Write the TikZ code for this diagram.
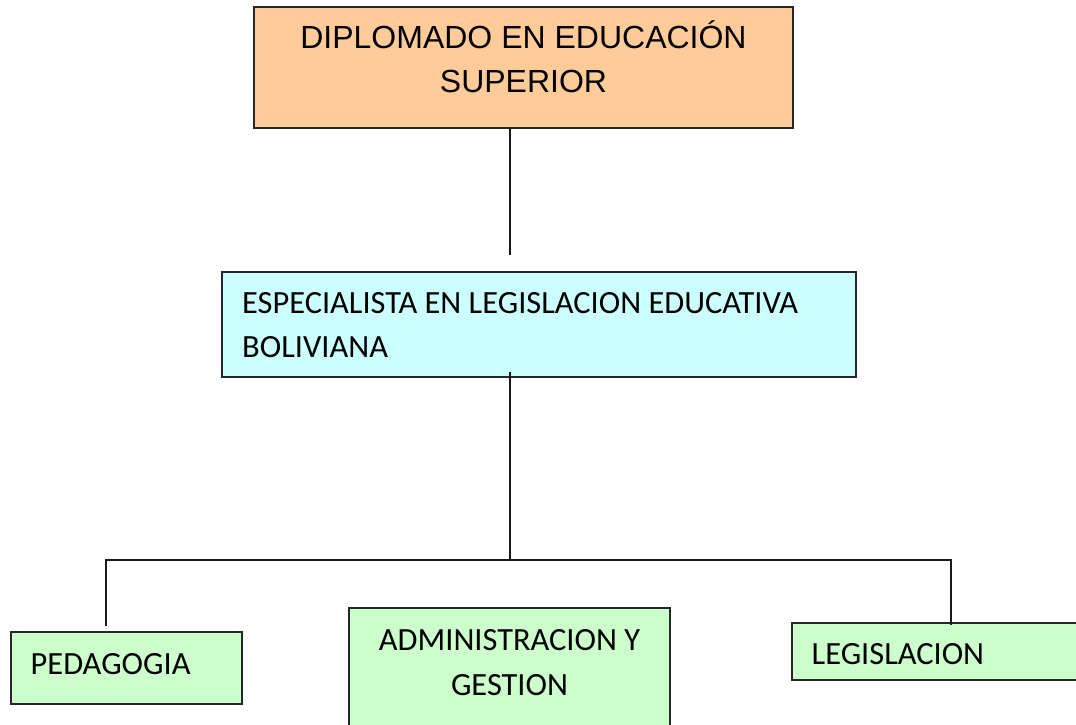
\documentclass[tikz,border=0pt]{standalone}
\usepackage{fontspec}
\setmainfont{Carlito}
\newfontfamily\arialfont{Liberation Sans}
\definecolor{orangebox}{HTML}{FFCC99}
\definecolor{cyanbox}{HTML}{CCFFFF}
\definecolor{greenbox}{HTML}{CCFFCC}
\begin{document}
\begin{tikzpicture}[x=1pt,y=-1pt,
  box/.style={draw=black!85, line width=1.3pt, rectangle, inner sep=0pt, outer sep=0pt},
  conn/.style={draw=black!90, line width=1.4pt},
  toptext/.style={font=\arialfont\fontsize{32}{44}\selectfont, inner sep=0pt, anchor=base},
  bodytext/.style={font=\fontsize{32.4}{44}\selectfont, inner sep=0pt}]
\clip (0,0) rectangle (1076,724);
\fill[white] (0,0) rectangle (1076,724);
% boxes
\node[box, fill=orangebox, minimum width=539pt, minimum height=121pt] (top) at (523.5,67.5) {};
\node[box, fill=cyanbox, minimum width=634pt, minimum height=105pt] (mid) at (539,324.5) {};
\node[box, fill=greenbox, minimum width=231pt, minimum height=72pt] (ped) at (126.5,668) {};
\node[box, fill=greenbox, minimum width=321pt, minimum height=140pt] (adm) at (509.5,678) {};
\node[box, fill=greenbox, minimum width=300pt, minimum height=57pt] (leg) at (942,651.5) {};
% texts
\node[toptext] (top1) at (523.5,48) {DIPLOMADO EN EDUCACIÓN};
\node[toptext] (top2) at (523.5,92) {SUPERIOR};
\node[bodytext, anchor=base west] (mid1) at (242,313) {ESPECIALISTA EN LEGISLACION EDUCATIVA};
\node[bodytext, anchor=base west] (mid2) at (242,357) {BOLIVIANA};
\node[bodytext, anchor=base west] (ped1) at (30.5,674) {PEDAGOGIA};
\node[bodytext, anchor=base] (adm1) at (509.5,650) {ADMINISTRACION Y};
\node[bodytext, anchor=base] (adm2) at (509.5,695) {GESTION};
\node[bodytext, anchor=base west] (leg1) at (811.5,664) {LEGISLACION};
% connector points
\coordinate (a1) at (510,255);
\coordinate (m0) at (510,372);
\coordinate (j) at (510,560);
\coordinate (jl) at (106,560);
\coordinate (jr) at (951,560);
\coordinate (pl) at (106,626);
\coordinate (pr) at (951,625);
% connectors
\draw[conn] (top.south -| a1) -- (a1);
\draw[conn] (m0) -- (j);
\draw[conn] (pl) -- (jl) -- (jr) -- (pr);
\end{tikzpicture}
\end{document}
